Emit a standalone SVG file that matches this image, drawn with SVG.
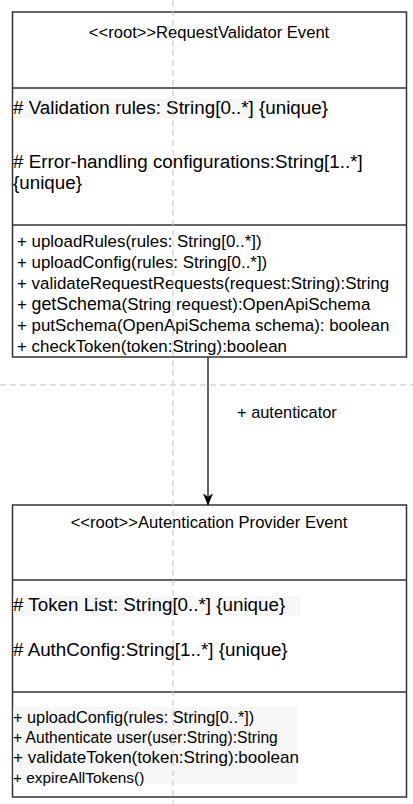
<svg xmlns="http://www.w3.org/2000/svg" width="413" height="804" viewBox="0 0 413 804">
<style>
text{font-family:"Liberation Sans",Arial,Helvetica,sans-serif;fill:#000}
.box{fill:#fff;stroke:#333;stroke-width:1.5}
.sep{stroke:#333;stroke-width:1.5}
.title{font-size:16.6px;text-anchor:middle}
.attr{font-size:18.8px}
.meth{font-size:16.9px}
.hl{fill:#f7f7f7}
.guide{stroke:#c4c4c4;stroke-width:1;stroke-dasharray:6 4;fill:none}
.conn{stroke:#333;stroke-width:1.5;fill:none}
</style>
<defs>
<marker id="arr" viewBox="0 0 12 12" refX="11" refY="6" markerWidth="12" markerHeight="12" markerUnits="userSpaceOnUse" orient="auto">
<path d="M0,1.5 L11,6 L0,10.5 L3,6 Z" fill="#000" stroke="#000" stroke-width="0.5"/>
</marker>
</defs>
<g id="requestValidator">
<rect class="box" x="12.5" y="12" width="394" height="345"/>
<line class="sep" x1="12.5" y1="88" x2="406.5" y2="88"/>
<line class="sep" x1="12.5" y1="225" x2="406.5" y2="225"/>
<text class="title" x="209" y="38">&lt;&lt;root&gt;&gt;RequestValidator Event</text>
<rect class="hl" x="13.5" y="99" width="315" height="20"/>
<text class="attr" x="13" y="114"># Validation rules: String[0..*] {unique}</text>
<text class="attr" x="13" y="168"># Error-handling configurations:String[1..*]</text>
<text class="attr" x="13" y="189">{unique}</text>
<text class="meth" x="17" y="247">+ uploadRules(rules: String[0..*])</text>
<text class="meth" x="17" y="268">+ uploadConfig(rules: String[0..*])</text>
<text class="meth" x="17" y="289">+ validateRequestRequests(request:String):String</text>
<text class="meth" x="17" y="310">+ <tspan font-size="17.8px">getSchema</tspan>(String request):OpenApiSchema</text>
<text class="meth" x="17" y="331">+ putSchema(OpenApiSchema schema): boolean</text>
<text class="meth" x="17" y="352">+ checkToken(token:String):boolean</text>
</g>
<g id="authProvider">
<rect class="box" x="12.5" y="505" width="394" height="292"/>
<line class="sep" x1="12.5" y1="580" x2="406.5" y2="580"/>
<line class="sep" x1="12.5" y1="692" x2="406.5" y2="692"/>
<text class="title" x="209" y="528">&lt;&lt;root&gt;&gt;Autentication Provider Event</text>
<rect class="hl" x="13.5" y="596" width="287" height="20"/>
<text class="attr" x="13" y="611"># Token List: String[0..*] {unique}</text>
<text class="attr" x="13" y="656"># AuthConfig:String[1..*] {unique}</text>
<rect class="hl" x="13.5" y="707" width="284" height="77"/>
<text x="13" y="723" font-size="16.3px">+ uploadConfig(rules: String[0..*])</text>
<text x="13" y="743" font-size="15.6px">+ Authenticate user(user:String):String</text>
<text x="13" y="763" font-size="17px">+ validateToken(token:String):boolean</text>
<text x="13" y="783" font-size="15.4px">+ expireAllTokens()</text>
</g>
<g id="connectors">
<line class="conn" x1="208" y1="357" x2="208" y2="505" marker-end="url(#arr)"/>
<text x="237" y="418" font-size="16.4px">+ autenticator</text>
</g>
<g id="guides">
<line class="guide" x1="173" y1="0" x2="173" y2="804"/>
<line class="guide" x1="0" y1="385" x2="413" y2="385"/>
</g>
</svg>
